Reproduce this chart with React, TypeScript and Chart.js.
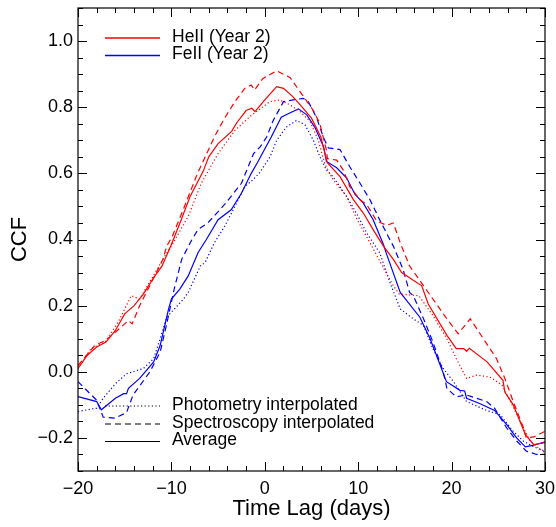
import React, { useEffect, useRef } from "react";
import { Chart, registerables } from "chart.js";

Chart.register(...registerables);

const FONT = "'Liberation Sans', Arial, Helvetica, sans-serif";
const RED = "#ff0000";
const BLUE = "#0000ff";

const xTickValues = [-20, -10, 0, 10, 20, 30];
const yTickValues = [-0.2, 0, 0.2, 0.4, 0.6, 0.8, 1.0];

const legendTop = ["HeII (Year 2)", "FeII (Year 2)"];
const legendBottom = ["Photometry interpolated", "Spectroscopy interpolated", "Average"];

// HeII average (red solid)
const heAvgLag = [-20, -19, -18, -17, -16, -15, -14.6, -14, -13, -12, -11, -10, -9, -8, -6.6, -6, -5, -3.55, -3, -2, -1.4, -1.05, 0, 1.27, 2, 3, 4, 5, 6, 6.7, 8.05, 9.5, 10.55, 11.6, 12.7, 13.76, 14.65, 16.8, 17.5, 19.5, 20.5, 21.3, 21.6, 21.9, 23.8, 25.5, 25.7, 26.6, 27.9, 28.8, 30];
const heAvgVal = [0.01, 0.05, 0.075, 0.09, 0.125, 0.175, 0.185, 0.2, 0.235, 0.28, 0.32, 0.385, 0.456, 0.53, 0.606, 0.65, 0.69, 0.727, 0.753, 0.79, 0.797, 0.787, 0.822, 0.862, 0.857, 0.832, 0.8, 0.767, 0.71, 0.632, 0.59, 0.52, 0.48, 0.43, 0.38, 0.34, 0.3, 0.26, 0.205, 0.11, 0.07, 0.07, 0.062, 0.071, 0.03, -0.026, -0.061, -0.1, -0.19, -0.22, -0.214];

// HeII spectroscopy interpolated (red dashed)
const heSpecLag = [-20, -18.2, -17.1, -16.4, -14.6, -14.2, -13.4, -12.15, -10.9, -10.5, -9.9, -8.6, -7.2, -5.4, -4.3, -3.2, -2.15, -1.45, -1.1, -0.2, 1.27, 2.7, 3.77, 5.2, 5.9, 6.6, 6.7, 7.7, 8.4, 9.1, 10.2, 10.9, 11.98, 13.05, 13.76, 14.5, 15.5, 17.0, 18.0, 19.5, 20.7, 22.0, 23.4, 24.8, 25.7, 26.6, 27.7, 28.0, 28.8, 30];
const heSpecVal = [0.019, 0.08, 0.094, 0.11, 0.155, 0.145, 0.2, 0.27, 0.34, 0.38, 0.41, 0.5, 0.6, 0.71, 0.767, 0.817, 0.857, 0.867, 0.852, 0.887, 0.91, 0.89, 0.847, 0.79, 0.75, 0.67, 0.645, 0.64, 0.61, 0.56, 0.52, 0.506, 0.456, 0.443, 0.45, 0.39, 0.32, 0.26, 0.22, 0.16, 0.115, 0.16, 0.1, 0.04, -0.02, -0.09, -0.17, -0.2, -0.197, -0.18];

// HeII photometry interpolated (red dotted)
const hePhotLag = [-20, -18.6, -17.1, -15.7, -14.3, -13.4, -12.15, -10.7, -9.8, -8.2, -6.8, -5.0, -3.2, -1.45, 0.56, 1.6, 2.7, 3.77, 4.84, 5.73, 6.4, 7.33, 8.77, 9.8, 11.26, 12.3, 13.76, 14.4, 16.5, 18.0, 19.5, 20.5, 21.6, 22.7, 24.1, 25.4, 26.3, 27.7, 28.4, 30];
const hePhotVal = [0.01, 0.07, 0.09, 0.15, 0.23, 0.22, 0.28, 0.35, 0.39, 0.47, 0.57, 0.66, 0.73, 0.775, 0.817, 0.822, 0.807, 0.787, 0.757, 0.7, 0.63, 0.58, 0.53, 0.465, 0.39, 0.335, 0.26, 0.235, 0.23, 0.17, 0.1, 0.04, -0.02, -0.01, -0.016, -0.04, -0.09, -0.17, -0.21, -0.245];

// FeII average (blue solid)
const feAvgLag = [-20, -18, -17.5, -16.0, -15.1, -14.8, -14.6, -13.4, -11.9, -11.2, -10.3, -10, -9.1, -8.2, -7.15, -6.26, -5.0, -3.6, -2.5, -1.45, -0.8, 0.69, 1.76, 2.5, 3.6, 4.5, 5.4, 6.3, 6.6, 7.7, 8.77, 9.66, 10.55, 11.6, 12.7, 13.05, 14.5, 16.6, 17.7, 19.45, 20.9, 21.4, 21.6, 23.0, 24.6, 25.9, 26.96, 27.9, 28.8, 30];
const feAvgVal = [-0.075, -0.09, -0.115, -0.08, -0.066, -0.066, -0.05, -0.02, 0.03, 0.08, 0.19, 0.22, 0.25, 0.29, 0.36, 0.4, 0.46, 0.49, 0.54, 0.6, 0.632, 0.71, 0.77, 0.78, 0.795, 0.777, 0.737, 0.68, 0.636, 0.617, 0.586, 0.536, 0.51, 0.46, 0.385, 0.355, 0.24, 0.165, 0.1, -0.03, -0.056, -0.058, -0.08, -0.096, -0.117, -0.16, -0.2, -0.227, -0.222, -0.212];

// FeII spectroscopy interpolated (blue dashed)
const feSpecLag = [-20, -18, -17.3, -16.0, -14.8, -14.1, -12.3, -11.2, -10.5, -9.7, -8.9, -7.8, -7.15, -6.1, -4.3, -2.5, -1.2, -0.5, 0.2, 0.9, 2.0, 3.05, 4.1, 4.66, 5.56, 6.26, 6.8, 8.05, 9.1, 10.2, 11.26, 12.3, 13.2, 13.76, 14.8, 15.5, 15.9, 17, 18.0, 19.1, 19.5, 20.5, 21.6, 23.75, 24.6, 25.9, 27, 28.0, 29.1, 30];
const feSpecVal = [-0.03, -0.086, -0.137, -0.14, -0.123, -0.07, 0.0, 0.06, 0.145, 0.25, 0.34, 0.4, 0.43, 0.45, 0.506, 0.57, 0.66, 0.68, 0.71, 0.76, 0.817, 0.822, 0.827, 0.817, 0.767, 0.71, 0.677, 0.672, 0.62, 0.57, 0.52, 0.46, 0.41, 0.38, 0.31, 0.24, 0.23, 0.16, 0.09, 0.0, -0.05, -0.076, -0.07, -0.09, -0.11, -0.17, -0.21, -0.24, -0.25, -0.25];

// FeII photometry interpolated (blue dotted)
const fePhotLag = [-20, -18, -17.3, -16, -14.8, -13, -11.9, -11.2, -10.5, -10, -8.7, -8.2, -6.9, -6.4, -5.4, -4.3, -3.2, -2.15, -1.45, -0.6, 0.56, 1.27, 2.3, 3.4, 4.3, 5.2, 5.9, 6.6, 7.3, 8.77, 9.8, 10.9, 12.3, 13.4, 14.5, 15.9, 17.0, 18.0, 19.1, 20.2, 21.6, 23.75, 25.2, 26.6, 27.7, 28.8, 30];
const fePhotVal = [-0.12, -0.11, -0.08, -0.036, -0.006, 0.01, 0.04, 0.1, 0.165, 0.18, 0.22, 0.24, 0.32, 0.33, 0.39, 0.44, 0.5, 0.56, 0.576, 0.6, 0.65, 0.7, 0.74, 0.76, 0.747, 0.7, 0.65, 0.61, 0.59, 0.53, 0.48, 0.42, 0.36, 0.27, 0.19, 0.16, 0.14, 0.07, 0.01, -0.03, -0.09, -0.117, -0.13, -0.18, -0.21, -0.227, -0.24];

const DASH = [6, 4];
const DOT = [1.2, 2.4];

function pts(lags: number[], vals: number[]) {
  return lags.map((x, i) => ({ x, y: vals[i] }));
}

function fmt(v: number, digits: number) {
  const s = Math.abs(v).toFixed(digits);
  return v < -1e-9 ? "\u2212" + s : s;
}

function zeroPad(axis: any) {
  axis.paddingLeft = 0;
  axis.paddingRight = 0;
  axis.paddingTop = 0;
  axis.paddingBottom = 0;
}

const framePlugin = {
  id: "frameTicksLegend",
  afterDraw(chart: any) {
    const { ctx, chartArea: a, scales } = chart;
    const xs = scales.x;
    const ys = scales.y;
    ctx.save();
    ctx.strokeStyle = "#000";
    ctx.lineWidth = 1.2;
    ctx.setLineDash([]);
    ctx.strokeRect(a.left, a.top, a.right - a.left, a.bottom - a.top);
    ctx.lineWidth = 1;
    ctx.beginPath();
    for (let v = -20; v <= 30; v += 2) {
      const px = Math.round(xs.getPixelForValue(v)) + 0.5;
      const len = v % 10 === 0 ? 9 : 5;
      ctx.moveTo(px, a.bottom);
      ctx.lineTo(px, a.bottom - len);
      ctx.moveTo(px, a.top);
      ctx.lineTo(px, a.top + len);
    }
    for (let k = -6; k <= 22; k++) {
      const v = k * 0.05;
      const py = Math.round(ys.getPixelForValue(v)) + 0.5;
      const len = k % 4 === 0 ? 9 : 5;
      ctx.moveTo(a.left, py);
      ctx.lineTo(a.left + len, py);
      ctx.moveTo(a.right, py);
      ctx.lineTo(a.right - len, py);
    }
    ctx.stroke();

    // legends
    ctx.font = "17.5px " + FONT;
    ctx.fillStyle = "#000";
    ctx.textBaseline = "middle";
    ctx.textAlign = "left";
    const x0 = 105, x1 = 160, tx = 172;
    const topRows = [38, 55.5];
    const topColors = [RED, BLUE];
    topRows.forEach((y, i) => {
      ctx.strokeStyle = topColors[i];
      ctx.lineWidth = 1.3;
      ctx.setLineDash([]);
      ctx.beginPath();
      ctx.moveTo(x0, y);
      ctx.lineTo(x1, y);
      ctx.stroke();
      ctx.fillText(legendTop[i], tx, y - 1);
    });
    const botRows = [406, 424, 441.5];
    const botDash = [DOT, DASH, []];
    botRows.forEach((y, i) => {
      ctx.strokeStyle = "#000";
      ctx.lineWidth = 1.2;
      ctx.setLineDash(botDash[i]);
      ctx.beginPath();
      ctx.moveTo(x0, y);
      ctx.lineTo(x1, y);
      ctx.stroke();
      ctx.fillText(legendBottom[i], tx, y - 1);
    });
    ctx.restore();
  },
};

export default function App() {
  const ref = useRef<HTMLCanvasElement>(null);
  useEffect(() => {
    if (!ref.current) return;
    const mk = (label: string, l: number[], v: number[], color: string, dash: number[]) => ({
      label,
      data: pts(l, v),
      borderColor: color,
      backgroundColor: color,
      borderWidth: 1.2,
      borderDash: dash,
      pointRadius: 0,
      tension: 0,
      fill: false,
    });
    const chart = new Chart(ref.current, {
      type: "line",
      data: {
        datasets: [
          mk("HeII photometry", hePhotLag, hePhotVal, RED, DOT),
          mk("HeII spectroscopy", heSpecLag, heSpecVal, RED, DASH),
          mk("HeII average", heAvgLag, heAvgVal, RED, []),
          mk("FeII photometry", fePhotLag, fePhotVal, BLUE, DOT),
          mk("FeII spectroscopy", feSpecLag, feSpecVal, BLUE, DASH),
          mk("FeII average", feAvgLag, feAvgVal, BLUE, []),
        ],
      },
      options: {
        animation: false,
        responsive: false,
        devicePixelRatio: 1,
        events: [],
        layout: { padding: { top: 8, right: 11, left: 0, bottom: 0 } },
        plugins: { legend: { display: false }, tooltip: { enabled: false } },
        scales: {
          x: {
            type: "linear",
            min: -20,
            max: 30,
            afterBuildTicks: (axis: any) => {
              axis.ticks = xTickValues.map((v) => ({ value: v }));
            },
            afterFit: (axis: any) => {
              axis.height = 56;
              zeroPad(axis);
            },
            ticks: {
              color: "#000",
              font: { family: FONT, size: 18 },
              padding: 7,
              maxRotation: 0,
              autoSkip: false,
              callback: (v: any) => fmt(Number(v), 0),
            },
            grid: { display: false, drawTicks: false },
            border: { display: false },
            title: {
              display: true,
              text: "Time Lag (days)",
              color: "#000",
              font: { family: FONT, size: 22 },
              padding: { top: 0, bottom: 5 },
            },
          },
          y: {
            type: "linear",
            min: -0.3,
            max: 1.1,
            afterBuildTicks: (axis: any) => {
              axis.ticks = yTickValues.map((v) => ({ value: v }));
            },
            afterFit: (axis: any) => {
              axis.width = 78;
              zeroPad(axis);
            },
            ticks: {
              color: "#000",
              font: { family: FONT, size: 18 },
              padding: 5,
              autoSkip: false,
              callback: (v: any) => fmt(Number(v), 1),
            },
            grid: { display: false, drawTicks: false },
            border: { display: false },
            title: {
              display: true,
              text: "CCF",
              color: "#000",
              font: { family: FONT, size: 22 },
              padding: { top: 7, bottom: 0 },
            },
          },
        },
      },
      plugins: [framePlugin],
    } as any);
    return () => chart.destroy();
  }, []);
  return (
    <div style={{ position: "fixed", left: 0, top: 0, width: 556, height: 527, background: "#fff" }}>
      <canvas ref={ref} width={556} height={527} style={{ display: "block", width: 556, height: 527 }} />
    </div>
  );
}
